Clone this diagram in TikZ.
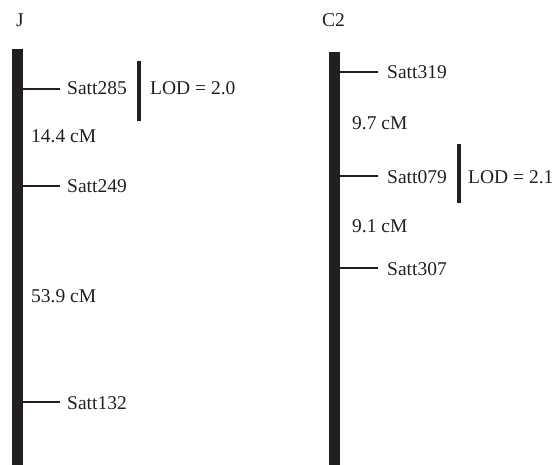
\documentclass[tikz,border=0pt]{standalone}
\usepackage{fontspec}
\setmainfont{Liberation Serif}
\definecolor{ink}{HTML}{231F20}
\begin{document}
\begin{tikzpicture}[x=1pt,y=-1pt,
  chrom/.style={line width=11pt, ink},
  tickline/.style={line width=2.8pt, ink},
  lodbar/.style={line width=4.5pt, ink},
  lbl/.style={anchor=base west, inner sep=0pt, text=ink, font=\fontsize{19.5}{22}\selectfont}]
\useasboundingbox (0,0) rectangle (559,465);
% chromosome J
\node[lbl] (tJ) at (16,27) {J};
\coordinate (Jtop) at (17,49);
\coordinate (Jbot) at (17,465);
\draw[chrom] (Jtop) -- (Jbot);
\coordinate (J1) at (22,89);
\coordinate (J2) at (22,186);
\coordinate (J3) at (22,402);
\node[lbl] (s285) at (67,95) {Satt285};
\node[lbl] (s249) at (67,193) {Satt249};
\node[lbl] (s132) at (67,409) {Satt132};
\draw[tickline] (J1) -- ++(38,0);
\draw[tickline] (J2) -- ++(38,0);
\draw[tickline] (J3) -- ++(38,0);
\node[lbl] (d1) at (31,143) {14.4 cM};
\node[lbl] (d2) at (31,302) {53.9 cM};
\coordinate (L1a) at (139,61);
\coordinate (L1b) at (139,121);
\draw[lodbar] (L1a) -- (L1b);
\node[lbl] (lod1) at (150,95) {LOD = 2.0};
% chromosome C2
\node[lbl] (tC) at (322,27) {C2};
\coordinate (Ctop) at (334,52);
\coordinate (Cbot) at (334,465);
\draw[chrom] (Ctop) -- (Cbot);
\coordinate (C1) at (339,72);
\coordinate (C2) at (339,176);
\coordinate (C3) at (339,268);
\draw[tickline] (C1) -- ++(39,0);
\draw[tickline] (C2) -- ++(39,0);
\draw[tickline] (C3) -- ++(39,0);
\node[lbl] (s319) at (387,79) {Satt319};
\node[lbl] (s079) at (387,183) {Satt079};
\node[lbl] (s307) at (387,275) {Satt307};
\node[lbl] (d3) at (352,130) {9.7 cM};
\node[lbl] (d4) at (352,232) {9.1 cM};
\coordinate (L2a) at (459,144);
\coordinate (L2b) at (459,203);
\draw[lodbar] (L2a) -- (L2b);
\node[lbl] (lod2) at (468,183) {LOD = 2.1};
\end{tikzpicture}
\end{document}
